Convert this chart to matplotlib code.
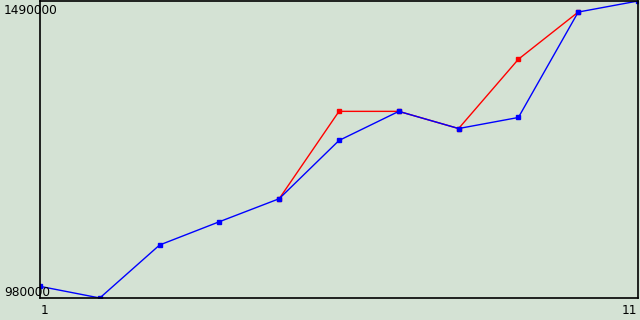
import matplotlib
matplotlib.use('Agg')
import matplotlib.pyplot as plt

# Data
x_vals = [1, 2, 3, 4, 5, 6, 7, 8, 9, 10, 11]
blue_vals = [1000000, 980000, 1071000, 1111000, 1150500, 1250500, 1300500, 1271000, 1290000, 1471000, 1490000]
red_x = [5, 6, 7, 8, 9, 10]
red_vals = [1150500, 1300500, 1300500, 1271000, 1390000, 1471000]
y_min, y_max = 980000, 1490000
y_labels = ['980000', '1490000']
x_labels = ['1', '11']

bg = '#d4e2d4'
fig = plt.figure(figsize=(6.4, 3.2), dpi=100, facecolor=bg)
ax = fig.add_axes([40 / 640, 22 / 320, 598 / 640, 297 / 320], facecolor=bg)

ax.plot(red_x, red_vals, color='red', linewidth=1, marker='s', markersize=2.5)
ax.plot(x_vals, blue_vals, color='blue', linewidth=1, marker='s', markersize=2.5)

ax.set_xlim(x_vals[0], x_vals[-1])
ax.set_ylim(y_min, y_max)
ax.set_xticks([])
ax.set_yticks([])
for s in ax.spines.values():
    s.set_color('black')
    s.set_linewidth(1.2)

# Axis labels drawn as plain text at the ends
fs = 8.7
fig.text(4 / 640, 1 - 10 / 320, y_labels[1], fontsize=fs, va='center', ha='left', color='black')
fig.text(4 / 640, 1 - 292 / 320, y_labels[0], fontsize=fs, va='center', ha='left', color='black')
fig.text(45 / 640, 1 - 311 / 320, x_labels[0], fontsize=fs, va='center', ha='center', color='black')
fig.text(637 / 640, 1 - 311 / 320, x_labels[1], fontsize=fs, va='center', ha='right', color='black')

fig.savefig('out.png', dpi=100, facecolor=bg)
